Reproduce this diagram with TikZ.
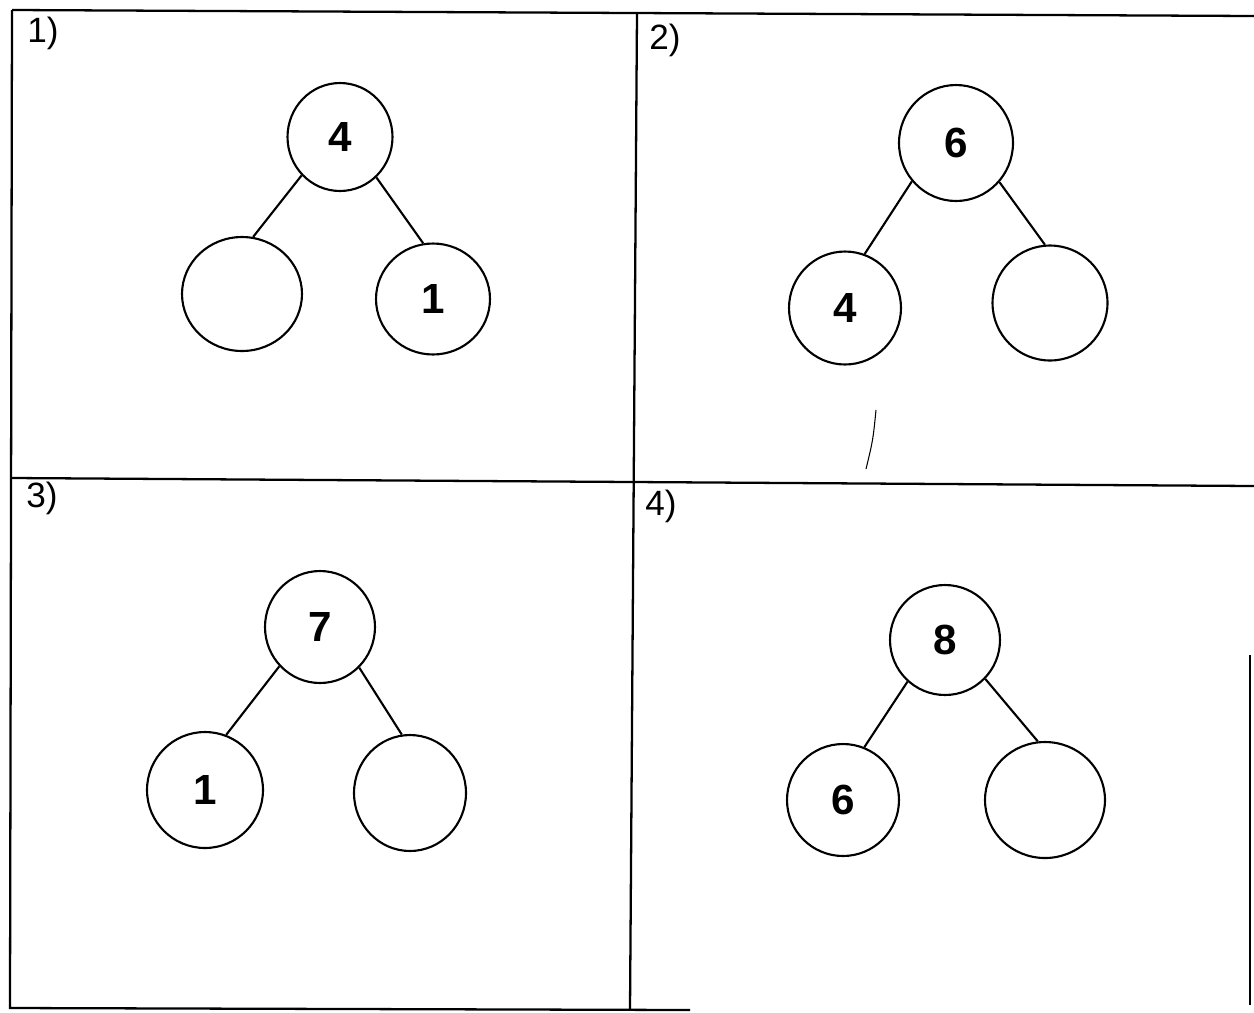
\documentclass[tikz,border=0pt]{standalone}
\usepackage{fontspec}
\setmainfont{Liberation Sans}
\usetikzlibrary{shapes.geometric}
\begin{document}
\begin{tikzpicture}[x=0.02cm,y=-0.02cm,
  grid/.style={line width=1.3pt},
  bond/.style={ellipse,draw,line width=1.2pt,inner sep=0pt,
    font=\fontsize{24}{24}\selectfont\bfseries},
  link/.style={line width=1.2pt},
  plabel/.style={font=\fontsize{20}{20}\selectfont,inner sep=0pt}]
\useasboundingbox (0,0) rectangle (1254,1012);
% grid
\coordinate (g1) at (12,10);
\coordinate (g2) at (1254,16);
\coordinate (g3) at (10,1008);
\coordinate (g4) at (637,13);
\coordinate (g5) at (630,1010);
\coordinate (g6) at (12,478);
\coordinate (g7) at (1254,486);
\coordinate (g8) at (690,1010);
\coordinate (g9) at (1250,655);
\coordinate (g10) at (1250,1005);
\draw[grid] (g1) -- (g2);
\draw[grid] (g1) -- (g3) -- (g8);
\draw[grid] (g4) -- (g5);
\draw[grid] (g6) -- (g7);
\draw[grid] (g9) -- (g10);
% stray mark
\coordinate (s1) at (876,410);
\coordinate (s2) at (866,469);
\draw[line width=0.6pt] (s1) .. controls (873,440) .. (s2);
% labels
\node[plabel] (L1) at (43,33) {1)};
\node[plabel] (L2) at (665,40) {2)};
\node[plabel] (L3) at (42,498) {3)};
\node[plabel] (L4) at (661,506) {4)};
% panel 1
\node[bond,minimum width=2.1cm,minimum height=2.16cm] (t1) at (340,137) {4};
\node[bond,minimum width=2.4cm,minimum height=2.28cm] (l1) at (242,294) {};
\node[bond,minimum width=2.28cm,minimum height=2.22cm] (r1) at (433,299) {1};
\draw[link] (t1.-135) -- (l1.79);
\draw[link] (t1.-48) -- (r1.100);
% panel 2
\node[bond,minimum width=2.28cm,minimum height=2.32cm] (t2) at (956,143) {6};
\node[bond,minimum width=2.24cm,minimum height=2.26cm] (l2) at (845,308) {4};
\node[bond,minimum width=2.3cm,minimum height=2.3cm] (r2) at (1050,303) {};
\draw[link] (t2.-139) -- (l2.70);
\draw[link] (t2.-42) -- (r2.95);
% panel 3
\node[bond,minimum width=2.2cm,minimum height=2.24cm] (t3) at (320,627) {7};
\node[bond,minimum width=2.32cm,minimum height=2.32cm] (l3) at (205,790) {1};
\node[bond,minimum width=2.24cm,minimum height=2.32cm] (r3) at (410,793) {};
\draw[link] (t3.-136) -- (l3.69);
\draw[link] (t3.-46) -- (r3.98);
% panel 4
\node[bond,minimum width=2.2cm,minimum height=2.2cm] (t4) at (945,640) {8};
\node[bond,minimum width=2.24cm,minimum height=2.24cm] (l4) at (843,800) {6};
\node[bond,minimum width=2.4cm,minimum height=2.32cm] (r4) at (1045,800) {};
\draw[link] (t4.-132) -- (l4.68);
\draw[link] (t4.-44) -- (r4.97);
\end{tikzpicture}
\end{document}
